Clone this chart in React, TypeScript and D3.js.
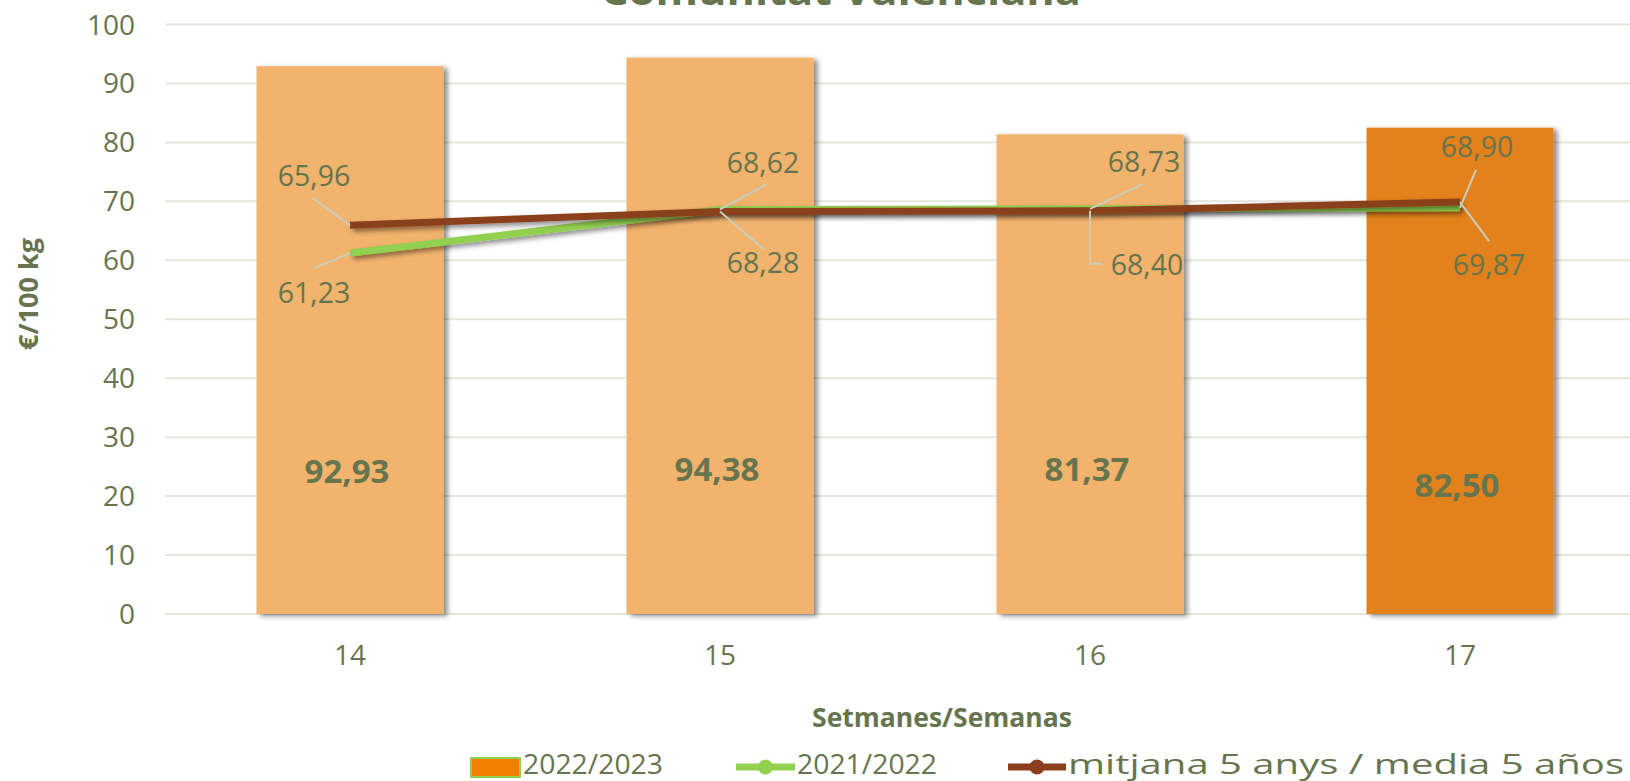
import React from 'react';
import * as d3 from 'd3';

const weeks = ['14', '15', '16', '17'];
const season2223 = [92.93, 94.38, 81.37, 82.5];
const season2122 = [61.23, 68.62, 68.73, 68.9];
const mean5 = [65.96, 68.28, 68.4, 69.87];
const yTicks = [0, 10, 20, 30, 40, 50, 60, 70, 80, 90, 100];
const barLabelAt = [22.2, 22.5, 22.5, 19.8];

const W = 1630;
const H = 781;
const TEXT = '#66754E';
const FONT = "'Open Sans', sans-serif";

// label placement offsets (pixels relative to point)
const greenLabelPos = [
  { dx: -36, dy: 50, leader: [[-36, 15], [0, 0]] },
  { dx: 43, dy: -36, leader: [[46, -25], [0, 0]] },
  { dx: 54, dy: -37, leader: [[53, -25], [0, 0]] },
  { dx: 17, dy: -51, leader: [[16, -38], [0, 0]] },
];
const brownLabelPos = [
  { dx: -36, dy: -39, leader: [[-37, -27], [0, 0]] },
  { dx: 43, dy: 62, leader: [[44, 38], [0, 0]] },
  { dx: 57, dy: 64, leader: [[12, 53], [0, 53], [0, 0]] },
  { dx: 29, dy: 73, leader: [[29, 39], [0, 0]] },
];

const fmt = (v: number) => v.toFixed(2).replace('.', ',');

export default function App() {
  const x = d3.scaleBand<string>().domain(weeks).range([165, 1645]).paddingInner(0.4946).paddingOuter(0.2473);
  const y = d3.scaleLinear().domain([0, 100]).range([614, 24.5]);
  const cx = (w: string) => (x(w) as number) + x.bandwidth() / 2;
  const line = d3
    .line<number>()
    .x((_, i) => cx(weeks[i]))
    .y((d) => y(d));

  const renderLabels = (vals: number[], pos: typeof greenLabelPos) =>
    vals.map((v, i) => {
      const px = cx(weeks[i]);
      const py = y(v);
      const p = pos[i];
      const pts = p.leader.map(([a, b]) => `${px + a},${py + b}`).join(' ');
      return (
        <g key={i}>
          <polyline points={pts} fill="none" stroke="#C8CDBE" strokeWidth={2} />
          <text x={px + p.dx} y={py + p.dy} textAnchor="middle" fontSize={28.5} fill={TEXT} fontFamily={FONT}>
            {fmt(v)}
          </text>
        </g>
      );
    });

  return (
    <svg width={W} height={H} style={{ position: 'absolute', left: 0, top: 0, background: '#fff' }}>
      <defs>
        <filter id="barShadow" x="-10%" y="-10%" width="130%" height="130%">
          <feDropShadow dx={4} dy={2} stdDeviation={2.5} floodColor="#000" floodOpacity={0.45} />
        </filter>
        <filter id="lineShadow" x="-10%" y="-50%" width="130%" height="300%">
          <feDropShadow dx={3} dy={3} stdDeviation={2.5} floodColor="#000" floodOpacity={0.45} />
        </filter>
      </defs>

      {/* title (cut at top, as in the source) */}
      <text x={841} y={5} textAnchor="middle" fontSize={40} fontWeight="bold" fill={TEXT} fontFamily={FONT} textLength={480} lengthAdjust="spacingAndGlyphs">
        Comunitat Valenciana
      </text>

      {/* gridlines */}
      {yTicks.map((t) => (
        <line key={t} x1={165} x2={W} y1={y(t)} y2={y(t)} stroke="#E6E6DE" strokeWidth={2} />
      ))}
      {yTicks.map((t) => (
        <text key={'l' + t} x={135} y={y(t) + 10} textAnchor="end" fontSize={28} fill={TEXT} fontFamily={FONT}>
          {t}
        </text>
      ))}

      {/* bars */}
      {season2223.map((v, i) => (
        <rect
          key={i}
          x={x(weeks[i])}
          y={y(v)}
          width={x.bandwidth()}
          height={y(0) - y(v)}
          fill={i === weeks.length - 1 ? '#E3821A' : '#F2B36D'}
          filter="url(#barShadow)"
        />
      ))}
      {season2223.map((v, i) => (
        <text key={'b' + i} x={cx(weeks[i]) - 3} y={y(barLabelAt[i])} textAnchor="middle" fontSize={33} fontWeight="bold" fill={TEXT} fontFamily={FONT}>
          {fmt(v)}
        </text>
      ))}

      {/* lines */}
      <path d={line(season2122) as string} fill="none" stroke="#92D050" strokeWidth={7} filter="url(#lineShadow)" />
      <path d={line(mean5) as string} fill="none" stroke="#8B3F1F" strokeWidth={7} filter="url(#lineShadow)" />

      {renderLabels(season2122, greenLabelPos)}
      {renderLabels(mean5, brownLabelPos)}

      {/* x ticks */}
      {weeks.map((w) => (
        <text key={w} x={cx(w)} y={665} textAnchor="middle" fontSize={28} fill={TEXT} fontFamily={FONT}>
          {w}
        </text>
      ))}

      {/* axis titles */}
      <text x={942} y={727} textAnchor="middle" fontSize={26.5} fontWeight="bold" fill={TEXT} fontFamily={FONT}>
        Setmanes/Semanas
      </text>
      <text transform="translate(38,294) rotate(-90)" textAnchor="middle" fontSize={27} fontWeight="bold" fill={TEXT} fontFamily={FONT}>
        €/100 kg
      </text>

      {/* legend */}
      <rect x={471} y={758} width={49} height={19} fill="#F27F00" stroke="#92D050" strokeWidth={2} />
      <text x={523} y={774} fontSize={28} fill={TEXT} fontFamily={FONT} textLength={140} lengthAdjust="spacingAndGlyphs">
        2022/2023
      </text>
      <line x1={736} x2={795} y1={767} y2={767} stroke="#92D050" strokeWidth={7} />
      <circle cx={765.5} cy={767} r={7.5} fill="#92D050" />
      <text x={797} y={774} fontSize={28} fill={TEXT} fontFamily={FONT} textLength={140} lengthAdjust="spacingAndGlyphs">
        2021/2022
      </text>
      <line x1={1008} x2={1066} y1={767} y2={767} stroke="#8B3F1F" strokeWidth={7} />
      <circle cx={1037} cy={767} r={7.5} fill="#8B3F1F" />
      <text x={1068} y={774} fontSize={28} fill={TEXT} fontFamily={FONT} textLength={556} lengthAdjust="spacingAndGlyphs">
        mitjana 5 anys / media 5 años
      </text>
    </svg>
  );
}
